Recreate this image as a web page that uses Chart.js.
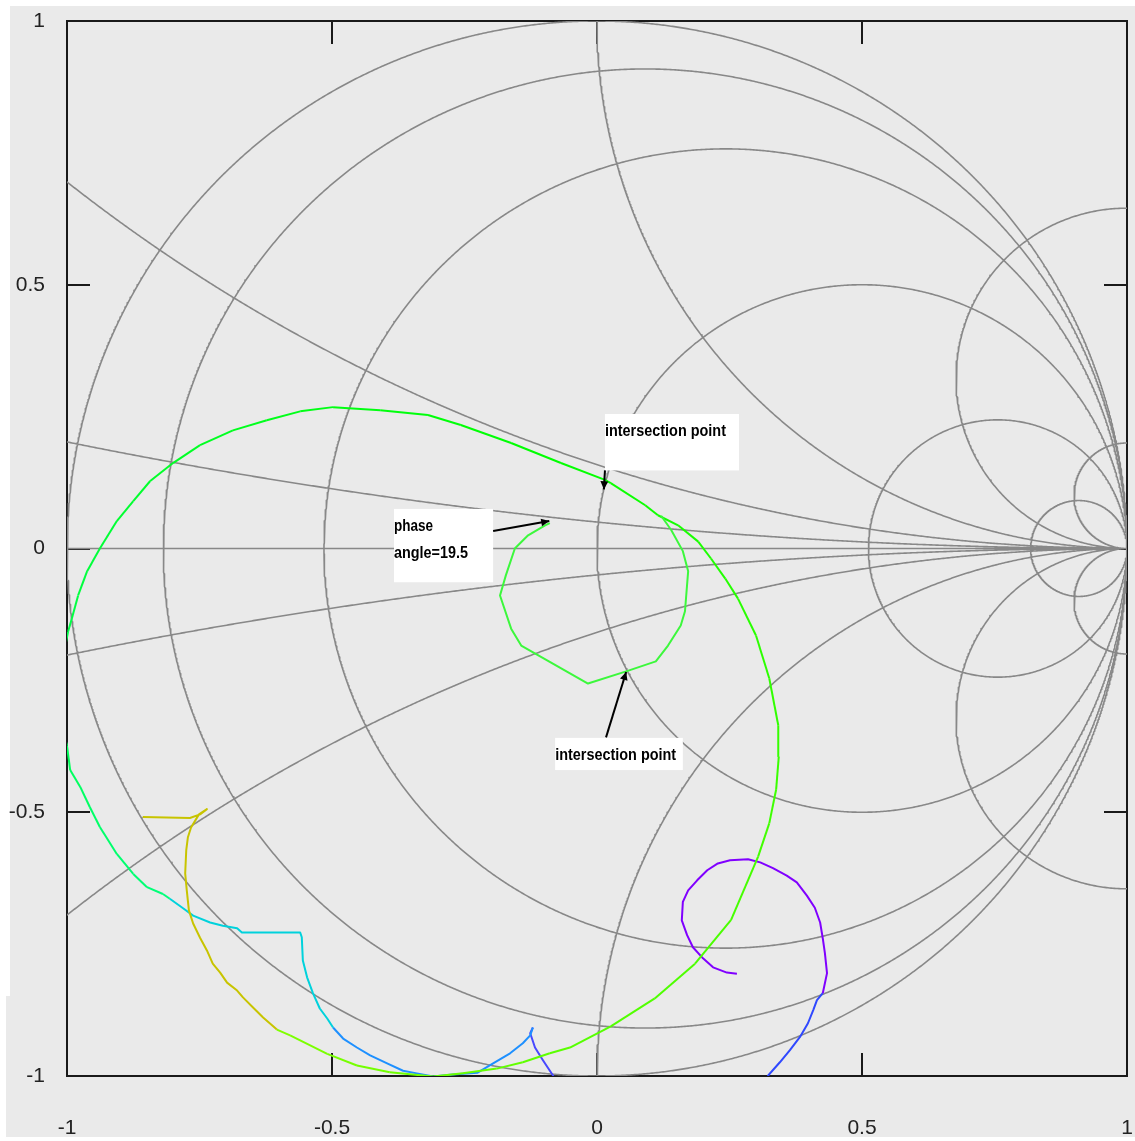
<!DOCTYPE html>
<html>
<head>
<meta charset="utf-8">
<title>Smith chart</title>
<script src="https://cdn.jsdelivr.net/npm/chart.js@4.4.1/dist/chart.umd.min.js"></script>
<style>
  html, body { margin: 0; padding: 0; background: #fff; }
  #wrap { width: 1135px; height: 1141px; }
</style>
</head>
<body>
<div id="wrap"><canvas id="smith" width="1135" height="1141"></canvas></div>
<script>
// reflection coefficient traces (real / imaginary parts)
const yellowRe = [-0.857, -0.768, -0.749, -0.736, -0.751, -0.766, -0.772, -0.775, -0.777, -0.774, -0.770,
  -0.762, -0.749, -0.736, -0.725, -0.711, -0.698, -0.679, -0.668, -0.649, -0.630, -0.604];
const yellowIm = [-0.509, -0.511, -0.504, -0.494, -0.504, -0.529, -0.548, -0.572, -0.616, -0.648, -0.686,
  -0.711, -0.738, -0.762, -0.787, -0.804, -0.823, -0.838, -0.851, -0.870, -0.889, -0.912];

const greenRe = [-0.604, -0.579, -0.509, -0.453, -0.391, -0.309, -0.253, -0.189, -0.140, -0.089, -0.051,
  0.026, 0.109, 0.185, 0.253, 0.304, 0.325, 0.338, 0.343, 0.342, 0.325, 0.300, 0.266, 0.242, 0.215,
  0.191, 0.153, 0.115, 0.091, 0.026, 0.015, -0.068, -0.162, -0.257, -0.319, -0.409, -0.498, -0.560,
  -0.623, -0.687, -0.749, -0.800, -0.843, -0.875, -0.906, -0.938, -0.962, -0.979, -0.991, -0.998,
  -1.009, -1.013, -1.009, -1.000, -0.994, -0.975, -0.957, -0.938, -0.906, -0.875, -0.849, -0.819, -0.806];
const greenIm = [-0.912, -0.923, -0.958, -0.980, -0.993, -1.001, -0.995, -0.986, -0.974, -0.957, -0.946,
  -0.906, -0.853, -0.787, -0.704, -0.584, -0.521, -0.457, -0.394, -0.335, -0.246, -0.165, -0.095, -0.057, -0.019,
  0.013, 0.044, 0.063, 0.082, 0.124, 0.130, 0.162, 0.200, 0.234, 0.253, 0.262, 0.268, 0.260,
  0.243, 0.224, 0.196, 0.162, 0.128, 0.090, 0.052, 0.000, -0.043, -0.089, -0.133, -0.158,
  -0.213, -0.279, -0.336, -0.374, -0.420, -0.452, -0.490, -0.528, -0.579, -0.617, -0.642, -0.655, -0.664];

const cyanRe = [-0.806, -0.781, -0.762, -0.730, -0.706, -0.679, -0.670, -0.560, -0.557, -0.555, -0.547,
  -0.536, -0.523, -0.509, -0.498];
const cyanIm = [-0.664, -0.682, -0.696, -0.709, -0.715, -0.720, -0.728, -0.728, -0.737, -0.781, -0.813,
  -0.843, -0.872, -0.891, -0.908];

const skyRe = [-0.498, -0.479, -0.453, -0.428, -0.396, -0.366, -0.340, -0.309, -0.272, -0.226, -0.196,
  -0.164, -0.140, -0.126, -0.121];
const skyIm = [-0.908, -0.929, -0.946, -0.961, -0.976, -0.990, -0.995, -1.001, -0.997, -0.994, -0.976,
  -0.957, -0.938, -0.923, -0.908];

const blueRe = [-0.121, -0.126, -0.117, -0.102, -0.083, -0.074];
const blueIm = [-0.908, -0.919, -0.946, -0.970, -0.999, -1.014];

const violetRe = [0.319, 0.323, 0.345, 0.364, 0.383, 0.398, 0.408, 0.415, 0.426, 0.434, 0.430, 0.426,
  0.421, 0.411, 0.396, 0.377, 0.358, 0.332, 0.308, 0.285, 0.251, 0.228, 0.208, 0.189, 0.172, 0.162,
  0.160, 0.170, 0.181, 0.200, 0.219, 0.245, 0.264];
const violetIm = [-1.014, -0.999, -0.974, -0.951, -0.926, -0.900, -0.875, -0.856, -0.843, -0.805, -0.767, -0.739,
  -0.709, -0.681, -0.658, -0.633, -0.620, -0.606, -0.595, -0.589, -0.591, -0.597, -0.610, -0.629, -0.648, -0.670,
  -0.705, -0.733, -0.756, -0.777, -0.794, -0.804, -0.806];

const loopRe = [0.121, 0.140, 0.162, 0.172, 0.166, 0.158, 0.134, 0.111, 0.055, -0.017, -0.143, -0.162,
  -0.183, -0.172, -0.155, -0.130, -0.098, -0.089];
const loopIm = [0.062, 0.035, -0.005, -0.043, -0.119, -0.146, -0.184, -0.214, -0.233, -0.256, -0.184, -0.152,
  -0.089, -0.051, 0.000, 0.025, 0.044, 0.048];

// normalised resistance and reactance circles of the grid
const resistances = [0, 0.1, 0.32, 1, 3.1, 10];
const reactances = [0.1, 0.31, 1, 3.1, 10];
const tickValues = [-1, -0.5, 0, 0.5, 1];

// annotation boxes: [label lines, left, top, right, bottom]
const noteBoxes = [
  [['intersection point'], 0.015, 0.255, 0.268, 0.148],
  [['phase', 'angle=19.5'], -0.383, 0.075, -0.196, -0.064],
  [['intersection point'], -0.079, -0.359, 0.162, -0.420],
];
// arrows: [fromRe, fromIm, toRe, toIm]
const noteArrows = [
  [0.015, 0.148, 0.013, 0.112],
  [-0.196, 0.033, -0.090, 0.052],
  [0.017, -0.358, 0.055, -0.234],
];

const zip = (re, im) => re.map((v, i) => ({ x: v, y: im[i] }));

function circle(cx, cy, r, out) {
  const n = Math.max(600, Math.ceil(2 * Math.PI * r / 0.003));
  let open = false;
  for (let i = 0; i <= n; i++) {
    const t = (i / n) * 2 * Math.PI;
    const x = cx + r * Math.cos(t);
    const y = cy + r * Math.sin(t);
    if (Math.abs(x) <= 1.02 && Math.abs(y) <= 1.02) {
      out.push({ x, y });
      open = true;
    } else if (open) {
      out.push({ x: null, y: null });
      open = false;
    }
  }
  out.push({ x: null, y: null });
}

const gridPts = [];
resistances.forEach(r => circle(r / (1 + r), 0, 1 / (1 + r), gridPts));
reactances.forEach(x => {
  circle(1, 1 / x, 1 / x, gridPts);
  circle(1, -1 / x, 1 / x, gridPts);
});
gridPts.push({ x: -1, y: 0 }, { x: 1, y: 0 });

const trace = (data, color, extra) => Object.assign({
  data, borderColor: color, borderWidth: 2, pointRadius: 0, showLine: true,
  tension: 0, spanGaps: false, borderJoinStyle: 'round',
}, extra || {});

const greenLen = greenRe.length;

const backdrop = {
  id: 'backdrop',
  beforeDraw(chart) {
    const { ctx } = chart;
    ctx.save();
    ctx.fillStyle = '#fff';
    ctx.fillRect(0, 0, chart.width, chart.height);
    ctx.fillStyle = '#eaeaea';
    ctx.fillRect(10, 6, chart.width - 10, 990);
    ctx.fillRect(6, 996, chart.width - 6, chart.height - 1000);
    ctx.restore();
  },
};

// box frame with inward tick marks
const frame = {
  id: 'frame',
  beforeDatasetsDraw(chart) {
    const { ctx, chartArea: a, scales: { x, y } } = chart;
    ctx.save();
    ctx.strokeStyle = '#1a1a1a';
    ctx.lineWidth = 2;
    ctx.strokeRect(a.left, a.top, a.right - a.left, a.bottom - a.top);
    const len = 23;
    ctx.beginPath();
    tickValues.forEach(v => {
      const px = Math.round(x.getPixelForValue(v));
      const py = Math.round(y.getPixelForValue(v));
      ctx.moveTo(px, a.top); ctx.lineTo(px, a.top + len);
      ctx.moveTo(px, a.bottom); ctx.lineTo(px, a.bottom - len);
      ctx.moveTo(a.left, py); ctx.lineTo(a.left + len, py);
      ctx.moveTo(a.right, py); ctx.lineTo(a.right - len, py);
    });
    ctx.stroke();
    ctx.restore();
  },
};

const notes = {
  id: 'notes',
  afterDatasetsDraw(chart) {
    const { ctx, scales: { x, y } } = chart;
    const X = v => x.getPixelForValue(v);
    const Y = v => y.getPixelForValue(v);
    ctx.save();
    ctx.font = "bold 16px 'Liberation Sans', Arial, sans-serif";
    ctx.textBaseline = 'middle';
    noteBoxes.forEach(([lines, l, t, r, b]) => {
      const left = X(l), top = Y(t);
      ctx.fillStyle = '#fff';
      ctx.fillRect(left, top, X(r) - left, Y(b) - top);
      ctx.fillStyle = '#000';
      lines.forEach((s, i) => {
        const w = s.length > 12 ? 121 : s.length > 5 ? 74 : 39;
        ctx.fillText(s, left, top + 18 + i * 27, w);
      });
    });
    ctx.strokeStyle = '#000';
    ctx.fillStyle = '#000';
    ctx.lineWidth = 2;
    noteArrows.forEach(([x0, y0, x1, y1]) => {
      const ax = X(x0), ay = Y(y0), bx = X(x1), by = Y(y1);
      ctx.beginPath();
      ctx.moveTo(ax, ay);
      ctx.lineTo(bx, by);
      ctx.stroke();
      const ang = Math.atan2(by - ay, bx - ax);
      ctx.beginPath();
      ctx.moveTo(bx, by);
      ctx.lineTo(bx - 9 * Math.cos(ang - 0.45), by - 9 * Math.sin(ang - 0.45));
      ctx.lineTo(bx - 9 * Math.cos(ang + 0.45), by - 9 * Math.sin(ang + 0.45));
      ctx.closePath();
      ctx.fill();
    });
    ctx.restore();
  },
};

const tickFont = { family: "'Liberation Sans', Arial, sans-serif", size: 21 };
const plainTick = v => String(v);

new Chart(document.getElementById('smith'), {
  type: 'scatter',
  data: {
    datasets: [
      trace(zip(loopRe, loopIm), '#3cf83c'),
      trace(zip(yellowRe, yellowIm), '#c8c400'),
      trace(zip(greenRe, greenIm), '#40ff40', {
        segment: {
          borderColor: c => `hsl(${90 + 60 * c.p0DataIndex / (greenLen - 1)}, 100%, 50%)`,
        },
      }),
      trace(zip(cyanRe, cyanIm), '#00d2dc'),
      trace(zip(skyRe, skyIm), '#1e90ff'),
      trace(zip(blueRe, blueIm), '#4848ff'),
      trace(zip(violetRe, violetIm), '#8000ff', {
        segment: { borderColor: c => (c.p0DataIndex < 8 ? '#2f48ff' : '#8000ff') },
      }),
      trace(gridPts, '#888888', { borderWidth: 1.6 }),
    ],
  },
  options: {
    responsive: false,
    animation: false,
    events: [],
    layout: { padding: { top: 21, right: 8, left: 0, bottom: 0 } },
    plugins: { legend: { display: false }, tooltip: { enabled: false } },
    scales: {
      x: {
        type: 'linear', min: -1, max: 1,
        afterFit: s => { s.height = 65; },
        grid: { display: true, drawOnChartArea: false, drawTicks: true, tickLength: 40, color: 'rgba(0,0,0,0)' },
        border: { display: false },
        ticks: { stepSize: 0.5, padding: 0, color: '#222', font: tickFont, maxRotation: 0, callback: plainTick },
      },
      y: {
        type: 'linear', min: -1, max: 1,
        afterFit: s => { s.width = 67; },
        grid: { display: true, drawOnChartArea: false, drawTicks: true, tickLength: 22, color: 'rgba(0,0,0,0)' },
        border: { display: false },
        ticks: { stepSize: 0.5, padding: 0, color: '#222', font: tickFont, callback: plainTick },
      },
    },
  },
  plugins: [backdrop, frame, notes],
});
</script>
</body>
</html>
